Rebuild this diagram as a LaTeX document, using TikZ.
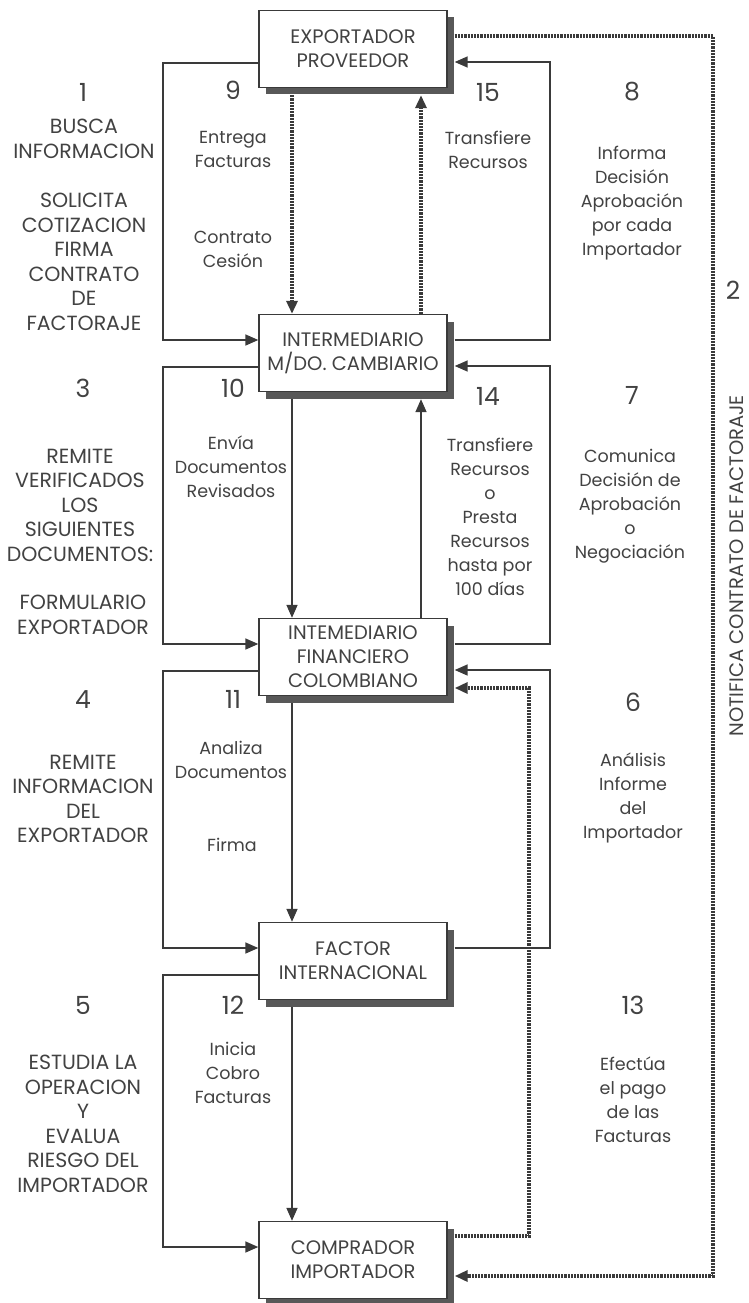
\documentclass[tikz,border=0pt]{standalone}
\usepackage{fontspec}
\setmainfont{Poppins}
\usetikzlibrary{arrows.meta,calc,shadows}
\definecolor{ink}{RGB}{58,58,58}
\definecolor{txt}{RGB}{66,66,66}
\definecolor{shade}{RGB}{88,88,88}
\begin{document}
\begin{tikzpicture}[x=1pt,y=-1pt,
  box/.style={draw=ink, line width=1.4pt, fill=white, minimum width=188pt, minimum height=77pt,
    inner sep=0pt, align=center, font=\fontsize{19.5}{24}\selectfont, text=txt,
    drop shadow={shadow xshift=7pt, shadow yshift=-7pt, opacity=1, fill=shade}},
  conn/.style={draw=ink, line width=1.6pt, -{Triangle[length=13pt,width=11pt]}},
  dots/.style={draw=ink, line width=3.4pt, dash pattern=on 2.2pt off 1pt, -{Triangle[length=13pt,width=11pt]}},
  caps/.style={text=txt, align=center, font=\fontsize{20.5}{24.5}\selectfont, inner sep=0pt},
  lbl/.style={text=txt, align=center, font=\fontsize{17.5}{24}\selectfont, inner sep=0pt},
  num/.style={text=txt, font=\fontsize{25}{25}\selectfont, inner sep=0pt}]
\useasboundingbox (0,0) rectangle (749,1303);
\fill[white] (0,0) rectangle (749,1303);

% boxes
\node[box] (b1) at (353,49) {EXPORTADOR\\PROVEEDOR};
\node[box] (b2) at (353,353) {INTERMEDIARIO\\M/DO. CAMBIARIO};
\node[box] (b3) at (353,657) {INTEMEDIARIO\\FINANCIERO\\COLOMBIANO};
\node[box] (b4) at (353,961) {FACTOR\\INTERNACIONAL};
\node[box] (b5) at (353,1260) {COMPRADOR\\IMPORTADOR};

% left loops
\draw[conn] ($(b1.west)+(0,14)$) -- (163,63) -- (163,340) -- ($(b2.west)+(0,-13)$);
\draw[conn] ($(b2.west)+(0,14)$) -- (163,367) -- (163,644) -- ($(b3.west)+(0,-13)$);
\draw[conn] ($(b3.west)+(0,14)$) -- (163,671) -- (163,948) -- ($(b4.west)+(0,-13)$);
\draw[conn] ($(b4.west)+(0,14)$) -- (163,975) -- (163,1247) -- ($(b5.west)+(0,-13)$);

% right loops
\draw[conn] ($(b2.east)+(7,-13)$) -- (550,340) -- (550,62) -- ($(b1.east)+(7,13)$);
\draw[conn] ($(b3.east)+(7,-13)$) -- (550,644) -- (550,366) -- ($(b2.east)+(7,13)$);
\draw[conn] ($(b4.east)+(7,-13)$) -- (550,948) -- (550,670) -- ($(b3.east)+(7,13)$);

% center verticals
\draw[dots] ($(b1.south)+(-61,7)$) -- ($(b2.north)+(-61,0)$);
\draw[dots] ($(b2.north)+(68,0)$) -- ($(b1.south)+(68,7)$);
\draw[conn] ($(b2.south)+(-61,7)$) -- ($(b3.north)+(-61,0)$);
\draw[conn] ($(b3.north)+(68,0)$) -- ($(b2.south)+(68,7)$);
\draw[conn] ($(b3.south)+(-61,7)$) -- ($(b4.north)+(-61,0)$);
\draw[conn] ($(b4.south)+(-61,7)$) -- ($(b5.north)+(-61,0)$);

% dotted loops
\draw[dots] ($(b1.east)+(7,-13)$) -- (713,36) -- (713,1276) -- ($(b5.east)+(7,16)$);
\draw[dots] ($(b5.east)+(7,-24)$) -- (529,1236) -- (529,688) -- ($(b3.east)+(7,31)$);

% numbers
\node[num] (n1) at (83,92) {1};
\node[num] (n9) at (233,90) {9};
\node[num] (n15) at (488,92) {15};
\node[num] (n8) at (632,92) {8};
\node[num] (n3) at (83,388) {3};
\node[num] (n10) at (233,388) {10};
\node[num] (n14) at (488,396) {14};
\node[num] (n7) at (632,395) {7};
\node[num] (n4) at (83,700) {4};
\node[num] (n11) at (233,699) {11};
\node[num] (n6) at (633,702) {6};
\node[num] (n5) at (83,1005) {5};
\node[num] (n12) at (233,1005) {12};
\node[num] (n13) at (633,1005) {13};
\node[num] (n2) at (733,290) {2};

% left column texts
\node[caps] (t1a) at (84,139) {BUSCA\\INFORMACION};
\node[caps] (t1b) at (84,262) {SOLICITA\\COTIZACION\\FIRMA\\CONTRATO\\DE\\FACTORAJE};
\node[caps] (t3a) at (80,505) {REMITE\\VERIFICADOS\\LOS\\SIGUIENTES\\DOCUMENTOS:};
\node[caps] (t3b) at (83,615) {FORMULARIO\\EXPORTADOR};
\node[caps] (t4) at (83,799) {REMITE\\INFORMACION\\DEL\\EXPORTADOR};
\node[caps] (t5) at (83,1124) {ESTUDIA LA\\OPERACION\\Y\\EVALUA\\RIESGO DEL\\IMPORTADOR};

% mid-left texts
\node[lbl] (t9a) at (233,149) {Entrega\\Facturas};
\node[lbl] (t9b) at (233,249) {Contrato\\Cesión};
\node[lbl] (t10) at (231,467) {Envía\\Documentos\\Revisados};
\node[lbl] (t11a) at (231,760) {Analiza\\Documentos};
\node[lbl] (t11b) at (232,845) {Firma};
\node[lbl] (t12) at (233,1073) {Inicia\\Cobro\\Facturas};

% mid-right texts
\node[lbl] (t15) at (488,150) {Transfiere\\Recursos};
\node[lbl] (t14) at (490,517) {Transfiere\\Recursos\\o\\Presta\\Recursos\\hasta por\\100 días};

% right texts
\node[lbl] (t8) at (632,203) {Informa\\Decisión\\Aprobación\\por cada\\Importador};
\node[lbl] (t7) at (630,506) {Comunica\\Decisión de\\Aprobación\\o\\Negociación};
\node[lbl] (t6) at (633,798) {Análisis\\Informe\\del\\Importador};
\node[lbl] (t13) at (633,1100) {Efectúa\\el pago\\de las\\Facturas};

% rotated label
\node[caps, rotate=90, font=\fontsize{19.5}{19.5}\selectfont] (notif) at (737,566) {NOTIFICA CONTRATO DE FACTORAJE};
\end{tikzpicture}
\end{document}
